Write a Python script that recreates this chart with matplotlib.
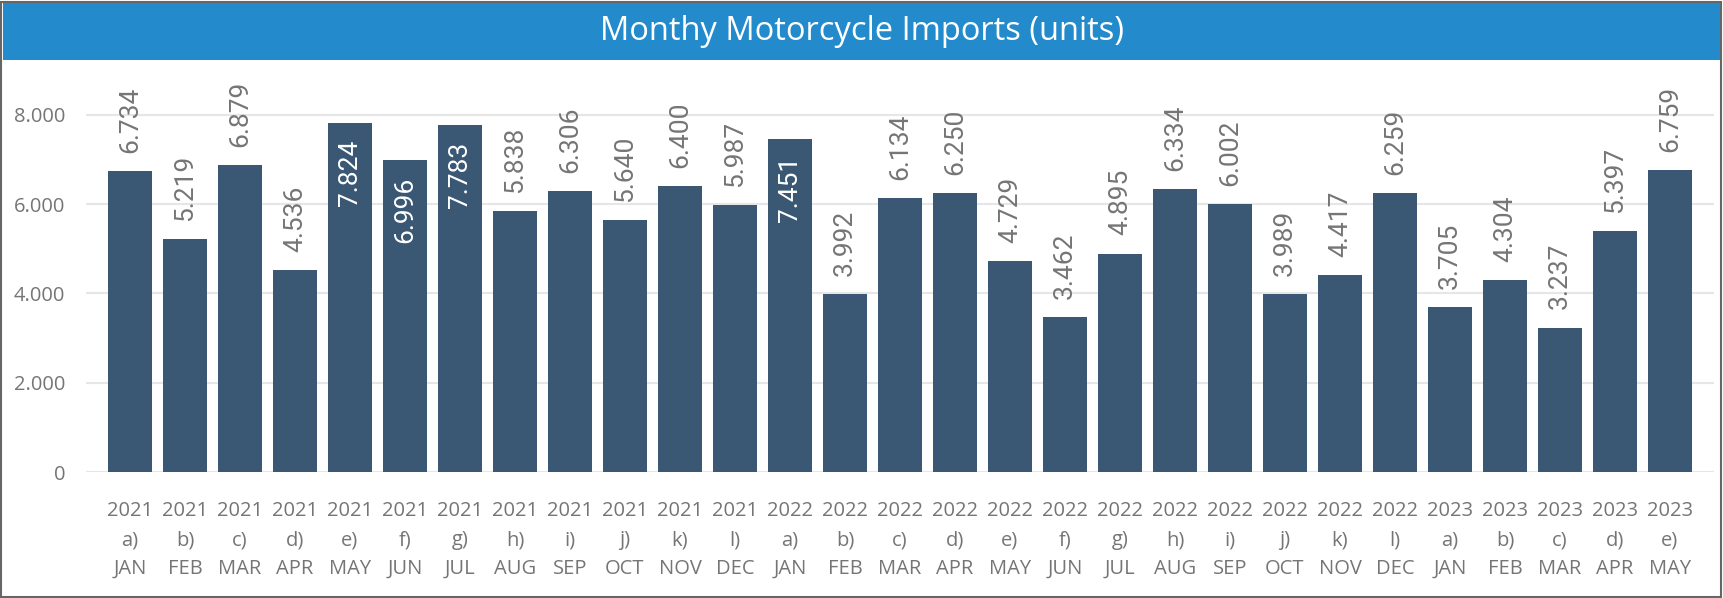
import matplotlib
matplotlib.use("Agg")
import matplotlib.pyplot as plt
from matplotlib.patches import Rectangle

# Monthly motorcycle imports (units)
years = ["2021"] * 12 + ["2022"] * 12 + ["2023"] * 5
letters = ["a)", "b)", "c)", "d)", "e)", "f)", "g)", "h)", "i)", "j)", "k)", "l)"]
months = ["JAN", "FEB", "MAR", "APR", "MAY", "JUN", "JUL", "AUG", "SEP", "OCT", "NOV", "DEC"]
imports_2021 = [6734, 5219, 6879, 4536, 7824, 6996, 7783, 5838, 6306, 5640, 6400, 5987]
imports_2022 = [7451, 3992, 6134, 6250, 4729, 3462, 4895, 6334, 6002, 3989, 4417, 6259]
imports_2023 = [3705, 4304, 3237, 5397, 6759]

values = imports_2021 + imports_2022 + imports_2023
tick_labels = [
    f"{y}\n{letters[i % 12]}\n{months[i % 12]}" for i, y in enumerate(years)
]

BAR = "#3a5873"
TITLE_BG = "#238bcb"
GREY = "#757575"
W, H = 1723, 598


def fmt(v):
    return f"{v:,}".replace(",", ".")


fig = plt.figure(figsize=(W / 100, H / 100), dpi=100)
fig.patch.set_facecolor("white")

# outer border and title band
fig.patches.append(Rectangle((1 / W, 1 / H), (W - 3) / W, (H - 3) / H,
                             transform=fig.transFigure, fill=False,
                             edgecolor="#666666", linewidth=1.5, zorder=5))
fig.patches.append(Rectangle((3 / W, (H - 60) / H), (W - 6) / W, 57 / H,
                             transform=fig.transFigure, facecolor=TITLE_BG,
                             edgecolor="none", zorder=4))
fig.text(0.5, (H - 32) / H, "Monthy Motorcycle Imports (units)", color="white",
         fontsize=23.5, family="Open Sans", ha="center", va="center", zorder=6)

ax = fig.add_axes([86 / W, (H - 472) / H, (1714 - 86) / W, (472 - 68) / H])
x = list(range(len(values)))
ax.bar(x, values, width=0.79, color=BAR, zorder=3)

ax.set_xlim(-0.8, 28.8)
ax.set_ylim(0, (472 - 68) / 0.04463)
ax.set_yticks([0, 2000, 4000, 6000, 8000])
ax.set_yticklabels([fmt(t) for t in [0, 2000, 4000, 6000, 8000]])
ax.grid(axis="y", color="#e6e6e6", linewidth=1.5, zorder=0)
ax.set_xticks(x)
ax.set_xticklabels(tick_labels, linespacing=1.6)
for s in ax.spines.values():
    s.set_visible(False)
ax.tick_params(length=0, colors=GREY, labelsize=14.5)
ax.tick_params(axis="x", pad=21)
ax.tick_params(axis="y", pad=15)
for lab in ax.get_xticklabels() + ax.get_yticklabels():
    lab.set_family("Open Sans")

# data labels: above bar, or inside near the top when the bar is tall
for i, v in enumerate(values):
    if v > 6950:
        ax.annotate(fmt(v), (i, v), xytext=(0, -12), textcoords="offset points",
                    rotation=90, ha="center", va="top", color="white",
                    fontsize=19, family="Roboto", zorder=4)
    else:
        ax.annotate(fmt(v), (i, v), xytext=(0, 13), textcoords="offset points",
                    rotation=90, ha="center", va="bottom", color=GREY,
                    fontsize=19, family="Roboto", zorder=4)

fig.savefig("out.png", dpi=100)
